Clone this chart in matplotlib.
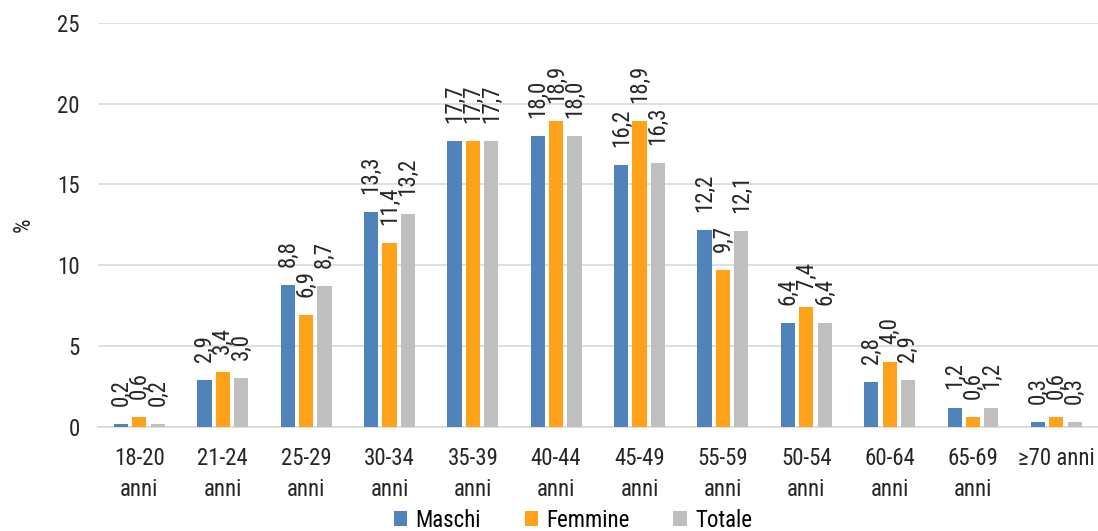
import numpy as np
import matplotlib.pyplot as plt
from matplotlib import font_manager

nomi = {f.name for f in font_manager.fontManager.ttflist}
narrow = [n for n in ['Liberation Sans Narrow', 'Roboto Condensed', 'Open Sans Condensed'] if n in nomi]
plt.rcParams['font.family'] = narrow + ['DejaVu Sans']
plt.rcParams['font.stretch'] = 'condensed'

categorie = ['18-20\nanni', '21-24\nanni', '25-29\nanni', '30-34\nanni', '35-39\nanni',
             '40-44\nanni', '45-49\nanni', '55-59\nanni', '50-54\nanni', '60-64\nanni',
             '65-69\nanni', '≥70 anni']
maschi = [0.2, 2.9, 8.8, 13.3, 17.7, 18.0, 16.2, 12.2, 6.4, 2.8, 1.2, 0.3]
femmine = [0.6, 3.4, 6.9, 11.4, 17.7, 18.9, 18.9, 9.7, 7.4, 4.0, 0.6, 0.6]
totale = [0.2, 3.0, 8.7, 13.2, 17.7, 18.0, 16.3, 12.1, 6.4, 2.9, 1.2, 0.3]

serie = [('Maschi', maschi, '#5083BA'), ('Femmine', femmine, '#FFA21A'), ('Totale', totale, '#BFBFBF')]
testo = '#262626'
fs = 16.5

fig = plt.figure(figsize=(10.98, 5.31), dpi=100)
ax = fig.add_axes([0.089, 0.196, 0.911, 0.761])

x = np.arange(len(categorie))
w = 0.17
off = 0.22
for k, (nome, vals, col) in enumerate(serie):
    pos = x + (k - 1) * off
    ax.bar(pos, vals, width=w, color=col, label=nome, zorder=3)
    for p, v in zip(pos, vals):
        ax.annotate(f'{v:.1f}'.replace('.', ','), (p, v), xytext=(0, 13), textcoords='offset points',
                    rotation=90, ha='center', va='bottom', fontsize=fs, color=testo)

ax.set_xlim(-0.5, len(categorie) - 0.5)
ax.set_ylim(0, 25)
ax.set_yticks(range(0, 26, 5))
ax.yaxis.grid(True, color='#D9D9D9', linewidth=1.2, zorder=0)
ax.set_axisbelow(True)
for s in ['top', 'right', 'left']:
    ax.spines[s].set_visible(False)
ax.spines['bottom'].set_color('#D9D9D9')
ax.spines['bottom'].set_linewidth(1.2)
ax.tick_params(axis='both', length=0, labelsize=fs, colors=testo)
ax.tick_params(axis='y', pad=13)
ax.tick_params(axis='x', pad=14.5)
ax.set_xticks(x)
ax.set_xticklabels(categorie, linespacing=1.45)
ax.set_ylabel('%', fontsize=fs, color=testo, labelpad=16)

ax.legend(loc='upper center', bbox_to_anchor=(0.475, -0.168), ncol=3, frameon=False, fontsize=fs,
          handlelength=0.6, handleheight=0.6, columnspacing=1.9, handletextpad=0.35,
          borderpad=0.1)

fig.savefig('out.png', dpi=100)
